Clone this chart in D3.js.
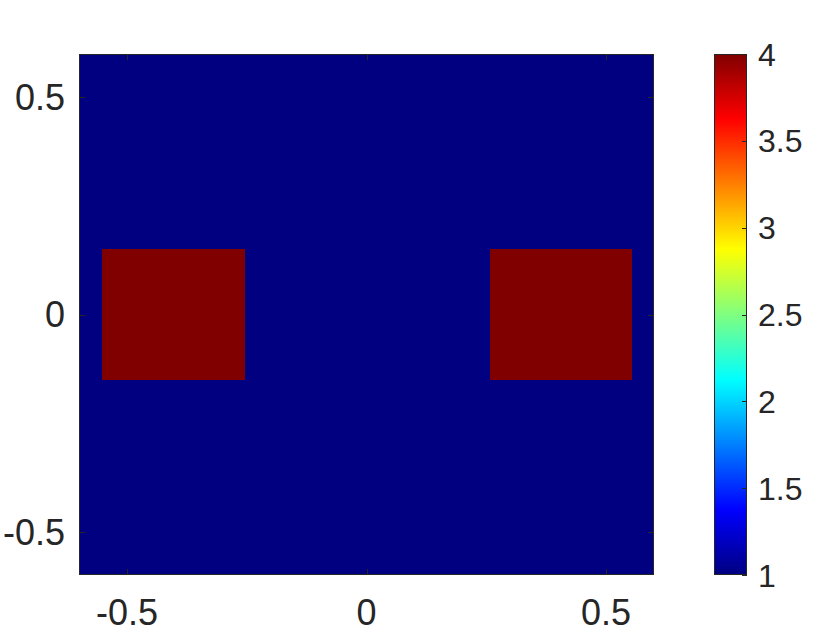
<!DOCTYPE html>
<html>
  <head>
    <meta charset="UTF-8">
    <style>
      body { margin: 0; background: white; }
      svg text { font-family: 'Liberation Sans', Arial, sans-serif; fill: #262626; }
    </style>
  </head>
  <body>
    <svg id="chart" width="829" height="635"></svg>
    <script src="https://d3js.org/d3.v7.min.js"></script>
    <script>
      // field data: cell edges and the value in each cell (rows bottom -> top)
      var xEdges = [-0.6, -0.551, -0.254, 0.258, 0.554, 0.6];
      var yEdges = [-0.6, -0.15, 0.15, 0.6];
      var values = [
        [1, 1, 1, 1, 1],
        [1, 4, 1, 4, 1],
        [1, 1, 1, 1, 1]
      ];
      var xTicks = [-0.5, 0, 0.5];
      var yTicks = [-0.5, 0, 0.5];
      var cTicks = [1, 1.5, 2, 2.5, 3, 3.5, 4];
      var cRange = [1, 4];
      // MATLAB jet colormap anchor points
      var jetStops = [0, 0.125, 0.375, 0.625, 0.875, 1];
      var jetColors = ["#000080", "#0000ff", "#00ffff", "#ffff00", "#ff0000", "#800000"];

      var svg = d3.select("#chart");
      var plot = {left: 79, top: 54, right: 654, bottom: 575};
      var cbar = {left: 714, right: 747};

      var x = d3.scaleLinear().domain([-0.6, 0.6]).range([plot.left, plot.right]);
      var y = d3.scaleLinear().domain([-0.6, 0.6]).range([plot.bottom, plot.top]);
      var jet = d3.scaleLinear().domain(jetStops).range(jetColors);
      var cnorm = d3.scaleLinear().domain(cRange).range([0, 1]).clamp(true);
      var cy = d3.scaleLinear().domain(cRange).range([plot.bottom, plot.top]);

      /* cells */
      var cells = [];
      values.forEach(function(row, j) {
        row.forEach(function(v, i) {
          cells.push({x0: xEdges[i], x1: xEdges[i + 1], y0: yEdges[j], y1: yEdges[j + 1], v: v});
        });
      });
      svg.append("g").selectAll("rect")
        .data(cells)
        .enter().append("rect")
        .attr("x", function(d) { return x(d.x0); })
        .attr("y", function(d) { return y(d.y1); })
        .attr("width", function(d) { return x(d.x1) - x(d.x0); })
        .attr("height", function(d) { return y(d.y0) - y(d.y1); })
        .attr("shape-rendering", "crispEdges")
        .style("fill", function(d) { return jet(cnorm(d.v)); });

      /* axes box and inward ticks */
      var tickLen = 6;
      var axisG = svg.append("g").attr("stroke", "#262626").attr("stroke-width", 1);
      axisG.append("rect")
        .attr("x", plot.left + 0.5).attr("y", plot.top + 0.5)
        .attr("width", plot.right - plot.left - 1).attr("height", plot.bottom - plot.top - 1)
        .attr("fill", "none");
      xTicks.forEach(function(t) {
        var px = Math.round(x(t)) + 0.5;
        axisG.append("line").attr("x1", px).attr("x2", px).attr("y1", plot.bottom).attr("y2", plot.bottom - tickLen);
        axisG.append("line").attr("x1", px).attr("x2", px).attr("y1", plot.top).attr("y2", plot.top + tickLen);
      });
      yTicks.forEach(function(t) {
        var py = Math.round(y(t)) + 0.5;
        axisG.append("line").attr("y1", py).attr("y2", py).attr("x1", plot.left).attr("x2", plot.left + tickLen);
        axisG.append("line").attr("y1", py).attr("y2", py).attr("x1", plot.right).attr("x2", plot.right - tickLen);
      });

      var fmt = function(v) { return String(v); };
      svg.append("g").selectAll("text")
        .data(xTicks)
        .enter().append("text")
        .attr("x", function(d) { return x(d); })
        .attr("y", plot.bottom + 50)
        .attr("text-anchor", "middle")
        .style("font-size", "36px")
        .text(fmt);
      svg.append("g").selectAll("text")
        .data(yTicks)
        .enter().append("text")
        .attr("x", plot.left - 14)
        .attr("y", function(d) { return y(d); })
        .attr("dy", "0.36em")
        .attr("text-anchor", "end")
        .style("font-size", "36px")
        .text(fmt);

      /* colorbar */
      var defs = svg.append("defs");
      var grad = defs.append("linearGradient")
        .attr("id", "jetgrad")
        .attr("x1", "0").attr("y1", "1").attr("x2", "0").attr("y2", "0");
      grad.selectAll("stop")
        .data(jetStops)
        .enter().append("stop")
        .attr("offset", function(d) { return d; })
        .attr("stop-color", function(d, i) { return jetColors[i]; });
      svg.append("rect")
        .attr("x", cbar.left).attr("y", plot.top)
        .attr("width", cbar.right - cbar.left).attr("height", plot.bottom - plot.top)
        .style("fill", "url(#jetgrad)");
      var cbG = svg.append("g").attr("stroke", "#262626").attr("stroke-width", 1);
      cbG.append("rect")
        .attr("x", cbar.left + 0.5).attr("y", plot.top + 0.5)
        .attr("width", cbar.right - cbar.left - 1).attr("height", plot.bottom - plot.top - 1)
        .attr("fill", "none");
      cTicks.forEach(function(t) {
        var py = Math.round(cy(t)) + 0.5;
        cbG.append("line").attr("y1", py).attr("y2", py).attr("x1", cbar.right).attr("x2", cbar.right - 5);
      });
      svg.append("g").selectAll("text")
        .data(cTicks)
        .enter().append("text")
        .attr("x", cbar.right + 11)
        .attr("y", function(d) { return cy(d); })
        .attr("dy", "0.36em")
        .attr("text-anchor", "start")
        .style("font-size", "32px")
        .text(fmt);
    </script>
  </body>
</html>
